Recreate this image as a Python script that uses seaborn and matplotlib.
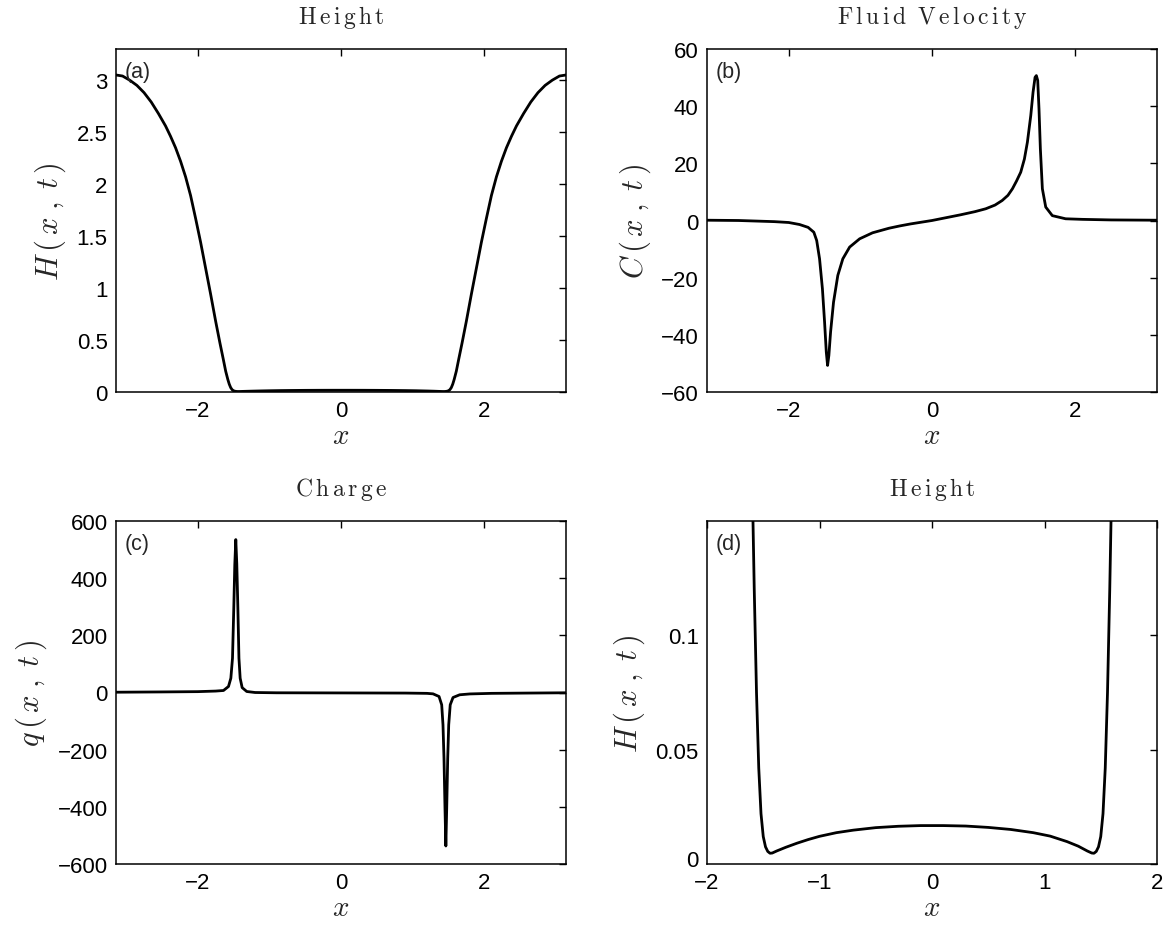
import numpy as np
import pandas as pd
import matplotlib
matplotlib.use("Agg")
import matplotlib.pyplot as plt
import matplotlib.transforms as mtransforms
import seaborn as sns
from matplotlib.ticker import FuncFormatter

# ---------------- data ----------------
h_x = [-3.1416, -3.05, -2.95, -2.85, -2.75, -2.65, -2.55, -2.45, -2.38, -2.31, -2.24, -2.17,
       -2.1, -2.03, -1.96, -1.89, -1.82, -1.75, -1.69, -1.645, -1.61, -1.58, -1.56, -1.54,
       -1.52, -1.50, -1.48, -1.46, -1.44, -1.42, -1.38, -1.3, -1.2, -1.1, -1.0, -0.85,
       -0.7, -0.5, -0.3, -0.1, 0.1, 0.3, 0.5, 0.7, 0.9, 1.05, 1.2, 1.3, 1.38, 1.42, 1.44,
       1.46, 1.48, 1.50, 1.52, 1.54, 1.56, 1.58, 1.61, 1.645, 1.69, 1.75, 1.82, 1.89, 1.96,
       2.03, 2.1, 2.17, 2.24, 2.31, 2.38, 2.45, 2.55, 2.65, 2.75, 2.85, 2.95, 3.05, 3.1416]
h_val = [3.05, 3.04, 3.00, 2.95, 2.88, 2.79, 2.68, 2.56, 2.46, 2.35, 2.22, 2.07,
         1.89, 1.67, 1.44, 1.19, 0.94, 0.68, 0.47, 0.32, 0.2, 0.12, 0.075, 0.042,
         0.022, 0.012, 0.0075, 0.0055, 0.0047, 0.0048, 0.0057, 0.0073, 0.0091, 0.0107, 0.0121, 0.0137,
         0.0148, 0.0159, 0.0165, 0.0168, 0.0168, 0.0166, 0.0160, 0.0151, 0.0137, 0.0122, 0.0098, 0.0078, 0.0057, 0.0048, 0.0047,
         0.0055, 0.0075, 0.012, 0.022, 0.042, 0.075, 0.12, 0.2, 0.32, 0.47, 0.68, 0.94, 1.19, 1.44,
         1.67, 1.89, 2.07, 2.22, 2.35, 2.46, 2.56, 2.68, 2.79, 2.88, 2.95, 3.00, 3.04, 3.05]

c_x = [-3.1416, -2.7, -2.2, -2.0, -1.85, -1.73, -1.65, -1.61, -1.57, -1.53, -1.50, -1.476,
       -1.458, -1.44, -1.416, -1.375, -1.315, -1.245, -1.15, -1.01, -0.83, -0.6, -0.45, -0.3,
       -0.15, 0.0, 0.2, 0.4, 0.6, 0.75, 0.88, 0.98, 1.06, 1.123, 1.18, 1.239, 1.29, 1.332,
       1.379, 1.411, 1.439, 1.457, 1.476, 1.494, 1.513, 1.541, 1.588, 1.68, 1.866, 2.1, 2.5,
       3.1416]
c_val = [0.1, 0.0, -0.4, -0.7, -1.4, -2.4, -4.1, -7.0, -13.4, -23.9, -35.5, -46,
         -50.7, -47.2, -39, -28.6, -19.2, -13.4, -9.3, -6.4, -4.3, -2.7, -1.9, -1.2,
         -0.6, 0.0, 1.0, 2.0, 3.1, 4.1, 5.4, 7.0, 8.8, 11.1, 13.8, 16.9, 21.5, 27.4,
         36.7, 44.9, 50.1, 50.7, 49.0, 39.0, 25.1, 11.1, 4.7, 1.7, 0.6, 0.4, 0.2,
         0.1]

q_x = [-3.1416, -2.5, -2.0, -1.75, -1.641, -1.571, -1.538, -1.515, -1.497, -1.483, -1.469,
       -1.455, -1.44, -1.425, -1.408, -1.38, -1.316, -1.2, -0.9, 0.0, 0.9, 1.2, 1.285, 1.369,
       1.406, 1.424, 1.438, 1.452, 1.464, 1.476, 1.49, 1.504, 1.525, 1.564, 1.657, 1.8, 2.1,
       2.6, 3.1416]
q_val = [1, 2, 3, 5, 7, 21, 50, 120, 295, 447, 535,
         450, 295, 120, 50, 17, 3.5, 0, -1, -1.5, -2, -3, -4.7, -14,
         -43, -113, -230, -405, -537, -405, -230, -113, -43, -17.5, -8, -5, -3,
         -2, -1]

titles = ["Height", "Fluid Velocity", "Charge", "Height"]
panel_tags = ["(a)", "(b)", "(c)", "(d)"]
ylabels = [r"$H\,(\,x\;,\;t\,)$", r"$C\,(\,x\;,\;t\,)$", r"$q\,(\,x\;,\;t\,)$", r"$H\,(\,x\;,\;t\,)$"]

# ---------------- style ----------------
sns.set_theme(style="white")
plt.rcParams["font.family"] = ["Liberation Sans", "DejaVu Sans"]
plt.rcParams["mathtext.fontset"] = "cm"
plt.rcParams["axes.unicode_minus"] = True

def spaced(title):
    parts = []
    for w in title.split(" "):
        parts.append(r"\,".join(list(w)))
    return r"$\mathrm{" + r"\;\;".join(parts) + "}$"

fig = plt.figure(figsize=(11.68, 9.28), dpi=100)
W, Hh = 450 / 1168, 343 / 928
pos = [[116 / 1168, 535 / 928, W, Hh], [707 / 1168, 535 / 928, W, Hh],
       [116 / 1168, 63 / 928, W, Hh], [707 / 1168, 63 / 928, W, Hh]]
axes = [fig.add_axes(p) for p in pos]

datasets = [
    pd.DataFrame({"x": h_x, "y": h_val}),
    pd.DataFrame({"x": c_x, "y": c_val}),
    pd.DataFrame({"x": q_x, "y": q_val}),
    pd.DataFrame({"x": h_x, "y": h_val}),
]
xlims = [(-np.pi, np.pi)] * 3 + [(-2, 2)]
ylims = [(0, 3.3), (-60, 60), (-600, 600), (0, 0.15)]
yticks = [np.arange(0, 3.01, 0.5), np.arange(-60, 61, 20), np.arange(-600, 601, 200), [0, 0.05, 0.1]]
xticks = [[-2, 0, 2]] * 3 + [[-2, -1, 0, 1, 2]]

fmt = FuncFormatter(lambda v, p: ("%g" % v).replace("-", "\u2212"))

for i, ax in enumerate(axes):
    sns.lineplot(data=datasets[i], x="x", y="y", ax=ax, color="black", lw=2.0,
                 sort=False, estimator=None)
    ax.set_xlim(*xlims[i])
    ax.set_ylim(*ylims[i])
    ax.set_xticks(xticks[i])
    ax.set_yticks(yticks[i])
    ax.xaxis.set_major_formatter(fmt)
    ax.yaxis.set_major_formatter(fmt)
    ax.tick_params(direction="in", length=5, width=1, top=True, right=True,
                   labelsize=16, colors="black")
    ax.tick_params(axis="x", pad=6)
    ax.tick_params(axis="y", pad=6)
    for s in ax.spines.values():
        s.set_visible(True)
        s.set_color("black")
        s.set_linewidth(1.1)
    ax.set_xlabel(r"$x$", fontsize=21, labelpad=0)
    ax.set_ylabel(ylabels[i], fontsize=22, labelpad=6)
    ax.set_title(spaced(titles[i]), fontsize=17, pad=19)
    ax.text(0.02, 0.965, panel_tags[i], transform=ax.transAxes, ha="left", va="top",
            fontsize=15.5)
    ax.set_facecolor("white")

# lift the corner "0" label of panel (d) a little so it clears the "-2" x label
shift = mtransforms.ScaledTranslation(0, 4 / 72, fig.dpi_scale_trans)
lab0 = axes[3].yaxis.get_majorticklabels()[0]
lab0.set_transform(lab0.get_transform() + shift)

fig.savefig("out.png", dpi=100, facecolor="white")
